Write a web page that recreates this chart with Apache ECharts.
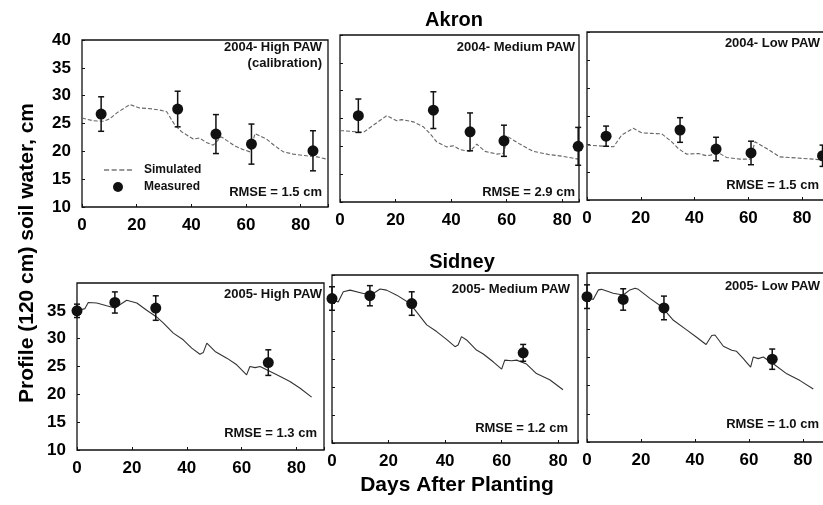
<!DOCTYPE html>
<html><head><meta charset="utf-8">
<script src="https://cdn.jsdelivr.net/npm/echarts/dist/echarts.min.js"></script>
<style>html,body{margin:0;padding:0;background:#fff}#c{width:823px;height:505px}</style>
</head><body><div id="c"></div>
<script>
// ---- tick labels ----
const xTicks = [0, 20, 40, 60, 80];
const yTicks = [10, 15, 20, 25, 30, 35, 40];

// ---- Akron 2004 High PAW (calibration) ----
const a1SimDays = [0, 4, 8, 10, 13, 17.5, 21, 24, 26, 28.5, 31, 34, 36.5, 40.7, 43, 45.5, 48, 51, 55.5, 58.5, 61.5, 63.3, 67.5, 70.5, 73.7, 77.3, 82.2, 86, 89.5];
const a1SimVals = [26.0, 25.5, 25.4, 25.8, 27.0, 28.4, 27.8, 27.7, 27.6, 27.4, 27.1, 24.7, 23.5, 22.2, 22.4, 21.6, 21.1, 22.6, 21.1, 20.4, 19.9, 23.2, 22.2, 21.0, 19.9, 19.5, 19.2, 19.0, 18.6];
const a1MeasDays = [7, 35, 49, 62, 84.5];
const a1MeasVals = [26.7, 27.6, 23.1, 21.3, 20.1];
const a1MeasErr = [3.1, 3.2, 3.5, 3.6, 3.6];

// ---- Akron 2004 Medium PAW ----
const a2SimDays = [0, 1.2, 8.4, 12, 16.8, 20.4, 22.2, 26.4, 30, 32.4, 34.8, 38.4, 40.8, 43.2, 46.8, 49.2, 52.2, 56.4, 58.7, 60.5, 64.7, 69.5, 75.5, 80.3, 85.7];
const a2SimVals = [22.8, 22.8, 22.5, 23.8, 25.5, 24.6, 24.8, 24.4, 23.5, 22.3, 20.8, 19.9, 20.1, 19.4, 19.1, 20.4, 19.1, 18.6, 18.7, 21.7, 20.4, 19.1, 18.5, 18.2, 17.7];
const a2MeasDays = [6.6, 33.6, 46.8, 59, 85.7];
const a2MeasVals = [25.5, 26.5, 22.6, 21.0, 20.0];
const a2MeasErr = [3.0, 3.3, 3.4, 2.8, 3.4];

// ---- Akron 2004 Low PAW ----
const a3SimDays = [0, 9.9, 12.9, 17.2, 20.3, 24, 27.8, 31.5, 33.9, 37, 41.4, 44.5, 49.4, 51.9, 56.9, 60.6, 62.5, 66.8, 71.7, 78, 84.1, 88];
const a3SimVals = [19.8, 19.5, 21.6, 22.8, 22.0, 21.9, 21.8, 20.4, 19.2, 18.2, 18.3, 17.9, 18.3, 17.6, 17.3, 17.3, 20.4, 19.2, 17.7, 17.5, 17.3, 17.1];
const a3MeasDays = [7.1, 34.6, 48, 61, 87.6];
const a3MeasVals = [21.4, 22.5, 19.1, 18.4, 17.9];
const a3MeasErr = [1.8, 2.2, 2.1, 2.1, 1.9];

// ---- Sidney 2005 High PAW ----
const s1SimDays = [0, 2.9, 4.1, 7.2, 10.8, 13.8, 18.1, 21.8, 25.4, 29.0, 31.5, 35.1, 38.7, 41.8, 44.8, 46, 47.3, 50.3, 54.6, 58.2, 61.8, 63, 64.9, 66.7, 69.1, 72.8, 77.6, 81.3, 85.5];
const s1SimVals = [35.0, 35.4, 36.5, 36.4, 35.9, 35.5, 36.9, 36.4, 35.1, 33.9, 32.8, 31.0, 29.8, 28.3, 27.2, 27.5, 29.2, 27.7, 26.5, 25.3, 23.5, 25.0, 24.8, 25.0, 24.4, 23.5, 22.3, 21.1, 19.5];
const s1MeasDays = [0, 13.8, 28.7, 69.7];
const s1MeasVals = [35.0, 36.5, 35.5, 25.7];
const s1MeasErr = [1.2, 1.9, 2.2, 2.3];

// ---- Sidney 2005 Medium PAW ----
const s2SimDays = [0, 2.2, 4, 6.4, 11.1, 14.6, 17, 19.3, 22.9, 27.6, 29.9, 33.5, 37, 40.5, 43.5, 44.6, 45.8, 47.6, 51.1, 53.5, 57, 60, 61.1, 63.5, 65.3, 68.8, 72.3, 77, 81.7];
const s2SimVals = [35.7, 35.2, 37.0, 37.3, 36.7, 36.7, 37.5, 37.3, 36.4, 34.9, 33.4, 31.1, 29.9, 28.5, 27.2, 27.5, 29.0, 28.4, 26.6, 25.9, 24.5, 23.2, 24.8, 24.7, 24.8, 24.1, 22.4, 21.3, 19.5];
const s2MeasDays = [0, 13.4, 28.2, 67.6];
const s2MeasVals = [35.8, 36.3, 34.9, 26.1];
const s2MeasErr = [2.1, 1.8, 2.1, 1.5];

// ---- Sidney 2005 Low PAW ----
const s3SimDays = [0, 2.3, 4.2, 5.4, 9.7, 13.4, 15.9, 17.8, 19, 23.3, 27.7, 32, 36.9, 40.6, 44.1, 46.2, 47.4, 50.5, 53.6, 55.4, 57.9, 60.6, 61.6, 63.4, 65.3, 69, 74, 78.9, 83.8];
const s3SimVals = [35.7, 35.3, 37.0, 37.1, 36.4, 36.1, 37.0, 37.3, 37.1, 35.5, 34.0, 31.6, 29.9, 28.6, 27.3, 28.9, 29.0, 27.0, 26.3, 26.1, 24.8, 23.3, 25.1, 24.8, 25.1, 23.9, 22.1, 20.9, 19.4];
const s3MeasDays = [0, 13.4, 28.5, 68.6];
const s3MeasVals = [35.8, 35.3, 33.8, 24.7];
const s3MeasErr = [2.1, 1.9, 2.1, 1.8];

// ---- panel labels ----
const panelLabels = ['2004- High PAW', '2004- Medium PAW', '2004- Low PAW', '2005- High PAW', '2005- Medium PAW', '2005- Low PAW'];
const rmseLabels = ['RMSE = 1.5 cm', 'RMSE = 2.9 cm', 'RMSE = 1.5 cm', 'RMSE = 1.3 cm', 'RMSE = 1.2 cm', 'RMSE = 1.0 cm'];

const FONT = '"Liberation Sans", Arial, sans-serif';

const panels = [
  { sd: a1SimDays, sv: a1SimVals, md: a1MeasDays, mv: a1MeasVals, me: a1MeasErr, grid: {left: 82, top: 40, width: 246, height: 167}, xmax: 90, yLab: true, showMax: true, dash: true, lab: [322, 47], rm: [322, 192] },
  { sd: a2SimDays, sv: a2SimVals, md: a2MeasDays, mv: a2MeasVals, me: a2MeasErr, grid: {left: 340, top: 35, width: 239, height: 167}, xmax: 86, yLab: false, dash: true, lab: [575, 47], rm: [575, 192] },
  { sd: a3SimDays, sv: a3SimVals, md: a3MeasDays, mv: a3MeasVals, me: a3MeasErr, grid: {left: 587, top: 32, width: 242, height: 168}, xmax: 90, yLab: false, dash: true, lab: [820, 43], rm: [819, 185] },
  { sd: s1SimDays, sv: s1SimVals, md: s1MeasDays, mv: s1MeasVals, me: s1MeasErr, grid: {left: 77, top: 283, width: 247, height: 167}, xmax: 90, yLab: true, showMax: false, dash: false, lab: [322, 294], rm: [317, 433] },
  { sd: s2SimDays, sv: s2SimVals, md: s2MeasDays, mv: s2MeasVals, me: s2MeasErr, grid: {left: 332, top: 275, width: 246, height: 168}, xmax: 87, yLab: false, dash: false, lab: [570, 289], rm: [568, 428] },
  { sd: s3SimDays, sv: s3SimVals, md: s3MeasDays, mv: s3MeasVals, me: s3MeasErr, grid: {left: 587, top: 273, width: 243, height: 169}, xmax: 90, yLab: false, dash: false, lab: [820, 286], rm: [819, 424] }
];

const grids = [], xAxes = [], yAxes = [], series = [], graphics = [];

panels.forEach((p, i) => {
  grids.push(Object.assign({show: true, borderColor: '#111', borderWidth: 1.3, backgroundColor: 'transparent',
    containLabel: false, outerBoundsMode: 'none'}, p.grid));
  xAxes.push({
    gridIndex: i, type: 'value', min: 0, max: p.xmax, interval: 20,
    splitLine: {show: false}, axisLine: {show: false},
    axisTick: {show: true, inside: true, length: 3, lineStyle: {color: '#111'}},
    axisLabel: {show: true, margin: 10, color: '#000', fontSize: 17, fontWeight: 'bold', fontFamily: FONT,
      formatter: v => xTicks.includes(v) ? String(v) : ''}
  });
  yAxes.push({
    gridIndex: i, type: 'value', min: 10, max: 40, interval: 5,
    splitLine: {show: false}, axisLine: {show: false},
    axisTick: {show: true, inside: true, length: 3, lineStyle: {color: '#111'}},
    axisLabel: {show: p.yLab, margin: 11, color: '#000', fontSize: 17, fontWeight: 'bold', fontFamily: FONT,
      showMaxLabel: p.showMax !== false,
      formatter: v => yTicks.includes(v) ? String(v) : ''}
  });
  series.push({
    name: 'Simulated', type: 'line', xAxisIndex: i, yAxisIndex: i, symbol: 'none', smooth: false,
    data: p.sd.map((d, k) => [d, p.sv[k]]),
    lineStyle: p.dash ? {color: '#666', width: 1.1, type: [4, 2]} : {color: '#333', width: 1.1, type: 'solid'},
    itemStyle: {color: '#777'}, z: 2
  });
  series.push({
    name: 'err' + i, type: 'custom', xAxisIndex: i, yAxisIndex: i,
    data: p.md.map((d, k) => [d, p.mv[k] - p.me[k], p.mv[k] + p.me[k]]),
    encode: {x: 0, y: [1, 2]},
    renderItem: function (params, api) {
      const x = api.value(0);
      const lo = api.coord([x, api.value(1)]);
      const hi = api.coord([x, api.value(2)]);
      const w = 3;
      const st = {stroke: '#111', lineWidth: 1.5};
      return {type: 'group', children: [
        {type: 'line', shape: {x1: lo[0], y1: lo[1], x2: hi[0], y2: hi[1]}, style: st},
        {type: 'line', shape: {x1: lo[0] - w, y1: lo[1], x2: lo[0] + w, y2: lo[1]}, style: st},
        {type: 'line', shape: {x1: hi[0] - w, y1: hi[1], x2: hi[0] + w, y2: hi[1]}, style: st}
      ]};
    }, z: 3
  });
  series.push({
    name: 'Measured', type: 'scatter', xAxisIndex: i, yAxisIndex: i, symbol: 'circle', symbolSize: 11,
    data: p.md.map((d, k) => [d, p.mv[k]]),
    itemStyle: {color: '#111', opacity: 1}, z: 4
  });
  const ts = (t, x, y, size) => ({type: 'text', x: x, y: y, z: 10,
    style: {text: t, fill: '#111', font: 'bold ' + size + 'px ' + FONT, align: 'right', verticalAlign: 'middle', textAlign: 'right', textVerticalAlign: 'middle'}});
  graphics.push(ts(panelLabels[i], p.lab[0], p.lab[1], 13));
  graphics.push(ts(rmseLabels[i], p.rm[0], p.rm[1], 13));
});

graphics.push({type: 'text', x: 322, y: 63, z: 10,
  style: {text: '(calibration)', fill: '#111', font: 'bold 13px ' + FONT, align: 'right', verticalAlign: 'middle', textAlign: 'right', textVerticalAlign: 'middle'}});
graphics.push({type: 'text', x: 454, y: 20, z: 10,
  style: {text: 'Akron', fill: '#000', font: 'bold 20px ' + FONT, align: 'center', verticalAlign: 'middle', textAlign: 'center', textVerticalAlign: 'middle'}});
graphics.push({type: 'text', x: 462, y: 262, z: 10,
  style: {text: 'Sidney', fill: '#000', font: 'bold 20px ' + FONT, align: 'center', verticalAlign: 'middle', textAlign: 'center', textVerticalAlign: 'middle'}});
graphics.push({type: 'text', x: 457, y: 485, z: 10,
  style: {text: 'Days After Planting', fill: '#000', font: 'bold 21px ' + FONT, align: 'center', verticalAlign: 'middle', textAlign: 'center', textVerticalAlign: 'middle'}});
graphics.push({type: 'text', x: 27, y: 253, rotation: Math.PI / 2, z: 10,
  style: {text: 'Profile (120 cm) soil water, cm', fill: '#000', font: 'bold 21px ' + FONT, align: 'center', verticalAlign: 'middle', textAlign: 'center', textVerticalAlign: 'middle'}});

const chart = echarts.init(document.getElementById('c'), null, {renderer: 'canvas'});
chart.setOption({
  animation: false,
  backgroundColor: '#fff',
  grid: grids, xAxis: xAxes, yAxis: yAxes, series: series,
  legend: {
    data: [
      {name: 'Simulated', icon: 'path://M0,0h5v1.4h-5zM7.5,0h5v1.4h-5zM15,0h5v1.4h-5zM22.5,0h5v1.4h-5z'},
      {name: 'Measured', icon: 'circle'}
    ],
    orient: 'vertical', left: 99, top: 159, itemWidth: 28, itemHeight: 10, itemGap: 5,
    selectedMode: false,
    textStyle: {color: '#111', fontSize: 12, fontWeight: 'bold', fontFamily: FONT, padding: [0, 0, 0, 7]}
  },
  graphic: graphics
});
</script>
</body></html>
